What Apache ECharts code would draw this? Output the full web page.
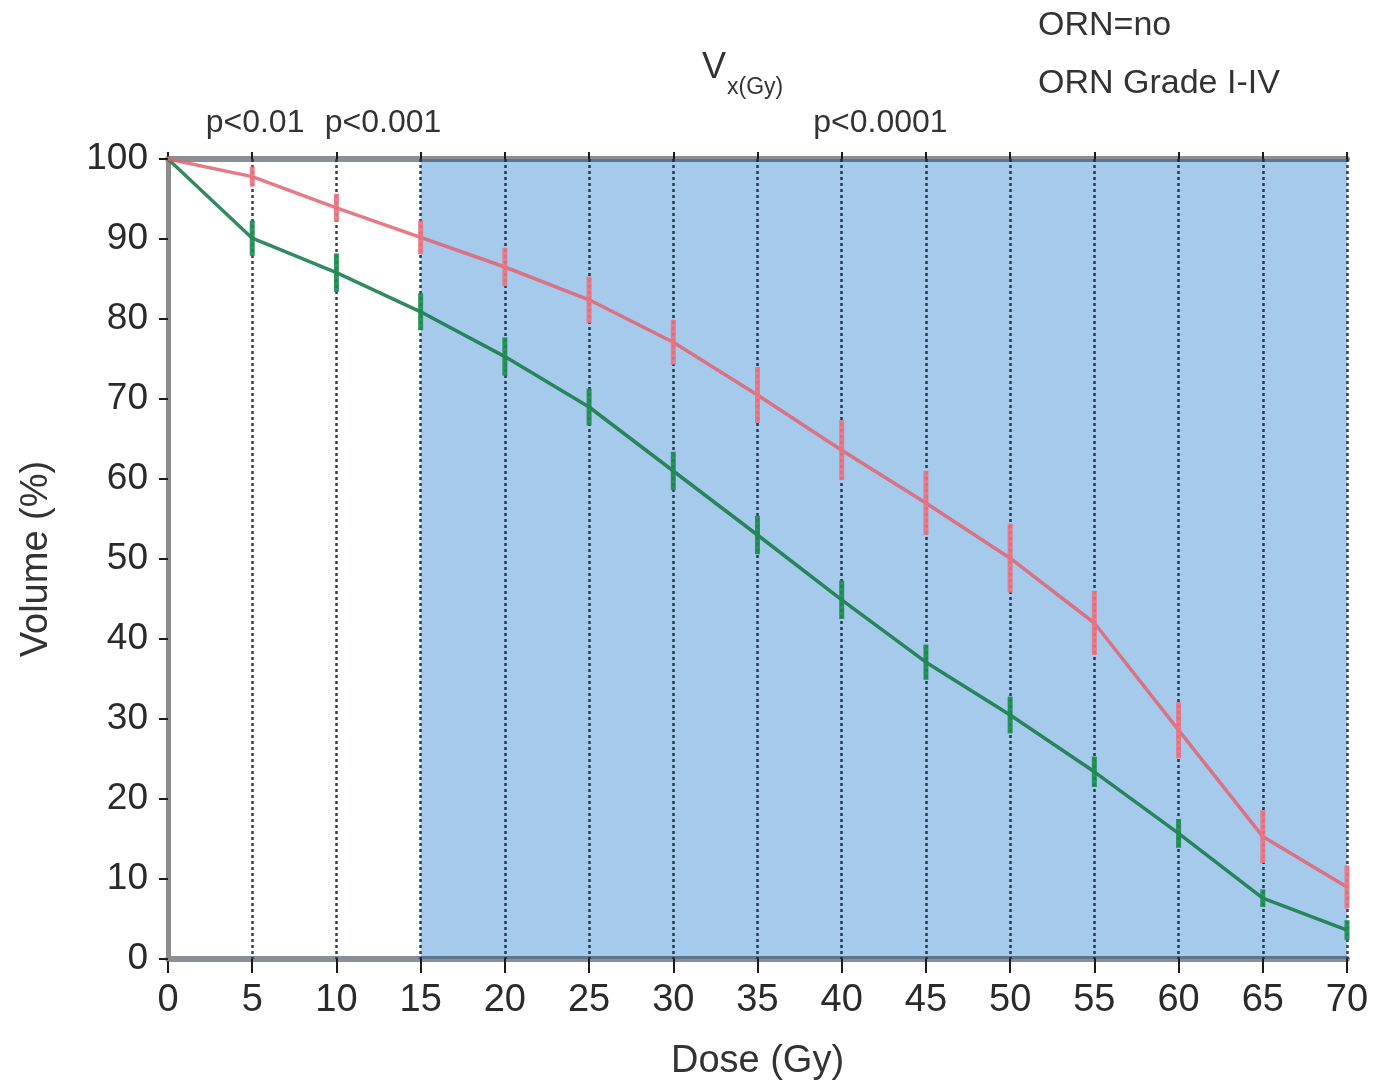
<!DOCTYPE html>
<html>
<head>
<meta charset="utf-8">
<title>Volume vs Dose</title>
<script src="https://cdn.jsdelivr.net/npm/echarts@6/dist/echarts.min.js"></script>
<style>
  html, body { margin: 0; padding: 0; background: #ffffff; }
  #chart { width: 1375px; height: 1085px; }
</style>
</head>
<body>
<div id="chart"></div>
<script>
// Dose levels (Gy)
const doses = [0, 5, 10, 15, 20, 25, 30, 35, 40, 45, 50, 55, 60, 65, 70];

// Mean volume (%) receiving at least each dose, with error half-widths
const ornNo       = [100, 90.1, 85.8, 80.9, 75.3, 69.0, 61.0, 53.0, 44.9, 37.1, 30.5, 23.4, 15.7, 7.6, 3.6];
const ornNoErr    = [0, 2.2, 2.4, 2.3, 2.4, 2.3, 2.4, 2.4, 2.4, 2.2, 2.3, 1.9, 1.8, 1.1, 1.25];
const ornGrade    = [100, 97.8, 93.9, 90.2, 86.5, 82.4, 77.1, 70.5, 63.6, 57.0, 50.1, 42.0, 28.6, 15.3, 9.0];
const ornGradeErr = [0, 1.25, 1.75, 2.1, 2.4, 2.9, 2.8, 3.5, 3.75, 4.0, 4.3, 4.0, 3.5, 3.3, 2.7];

// Dose range where the difference is highly significant
const shadedRange = [15, 70];

// Significance notes above the plot
const noteDose = [5.17, 12.77, 42.3];
const noteText = ['p<0.01', 'p<0.001', 'p<0.0001'];

// Axis ticks
const xTicks = { min: 0, max: 70, interval: 5 };
const yTicks = { min: 0, max: 100, interval: 10 };

const FONT = "'Liberation Sans', Arial, Helvetica, sans-serif";
const RED = 'rgba(226, 100, 114, 0.85)';
const RED_ERR = 'rgba(236, 116, 130, 0.92)';
const GREEN = 'rgba(22, 122, 72, 0.88)';
const GREEN_ERR = 'rgba(30, 140, 80, 0.92)';
const AXIS_LINE = 'rgba(22, 32, 46, 0.5)';

function pairs(xs, ys) { return xs.map((x, i) => [x, ys[i]]); }
function triples(xs, ys, es) { return xs.map((x, i) => [x, ys[i], es[i]]); }

function errorBarSeries(name, rows, color) {
  return {
    name: name,
    type: 'custom',
    z: 12,
    silent: true,
    data: rows,
    encode: { x: 0, y: 1 },
    renderItem: function (params, api) {
      const x = api.value(0), v = api.value(1), e = api.value(2);
      if (!e) return null;
      const hi = api.coord([x, v + e]);
      const lo = api.coord([x, v - e]);
      return {
        type: 'line',
        shape: { x1: hi[0], y1: hi[1], x2: lo[0], y2: lo[1] },
        style: { stroke: color, lineWidth: 5 }
      };
    }
  };
}

const chart = echarts.init(document.getElementById('chart'));

chart.setOption({
  animation: false,
  backgroundColor: '#ffffff',
  textStyle: { fontFamily: FONT },
  grid: { left: 168, right: 28, top: 159, bottom: 126, outerBoundsMode: 'none', containLabel: false },
  legend: {
    orient: 'vertical',
    left: 1027,
    top: 4,
    itemWidth: 0,
    itemHeight: 0,
    itemGap: 24,
    selectedMode: false,
    data: ['ORN=no', 'ORN Grade I-IV'],
    textStyle: { fontFamily: FONT, fontSize: 34, color: '#333333' }
  },
  graphic: [
    { type: 'text', left: 702, top: 50, z: 20,
      style: { text: 'V', font: '36px ' + FONT, fill: '#333333' } },
    { type: 'text', left: 727, top: 76, z: 20,
      style: { text: 'x(Gy)', font: '23px ' + FONT, fill: '#333333' } }
  ],
  xAxis: [
    {
      type: 'value',
      position: 'bottom',
      min: xTicks.min, max: xTicks.max, interval: xTicks.interval,
      z: 5,
      name: 'Dose (Gy)',
      nameLocation: 'middle',
      nameGap: 84,
      nameTextStyle: { fontFamily: FONT, fontSize: 38, color: '#333333' },
      axisLine: { show: true, onZero: false, lineStyle: { color: AXIS_LINE, width: 6 } },
      axisTick: { show: true, length: 14, lineStyle: { color: '#1a1a1a', width: 2 } },
      axisLabel: { margin: 23, fontFamily: FONT, fontSize: 38, color: '#2a2a2a' },
      splitLine: { show: true, lineStyle: { color: 'rgba(18, 30, 52, 0.85)', width: 2.5, type: [3, 3] } }
    },
    {
      type: 'value',
      position: 'top',
      min: xTicks.min, max: xTicks.max, interval: xTicks.interval,
      z: 5,
      axisLine: { show: true, onZero: false, lineStyle: { color: AXIS_LINE, width: 6 } },
      axisTick: { show: true, length: 7, lineStyle: { color: '#1a1a1a', width: 2 } },
      axisLabel: { show: false },
      splitLine: { show: false }
    }
  ],
  yAxis: {
    type: 'value',
    min: yTicks.min, max: yTicks.max, interval: yTicks.interval,
    z: 7,
    name: 'Volume (%)',
    nameLocation: 'middle',
    nameGap: 112,
    nameTextStyle: { fontFamily: FONT, fontSize: 38, color: '#333333' },
    axisLine: { show: true, onZero: false, lineStyle: { color: '#8c8c8c', width: 5 } },
    axisTick: { show: true, length: 9, lineStyle: { color: '#1a1a1a', width: 2 } },
    axisLabel: { margin: 20, fontFamily: FONT, fontSize: 37, color: '#2a2a2a' },
    splitLine: { show: false }
  },
  series: [
    {
      name: 'shade',
      type: 'line',
      z: 1,
      data: [],
      silent: true,
      markArea: {
        silent: true,
        itemStyle: { color: '#a6caec' },
        data: [[{ xAxis: shadedRange[0], yAxis: yTicks.min }, { xAxis: shadedRange[1], yAxis: yTicks.max }]]
      }
    },
    {
      name: 'notes',
      type: 'custom',
      z: 15,
      silent: true,
      data: noteDose.map((d, i) => [d, yTicks.max, i]),
      renderItem: function (params, api) {
        const p = api.coord([api.value(0), api.value(1)]);
        return {
          type: 'text',
          x: p[0], y: p[1] - 36,
          style: {
            text: noteText[api.value(2)],
            font: '32px ' + FONT,
            fill: '#333333',
            align: 'center',
            verticalAlign: 'middle'
          }
        };
      }
    },
    {
      name: 'ORN=no',
      type: 'line',
      z: 10,
      data: pairs(doses, ornNo),
      showSymbol: false,
      symbol: 'none',
      itemStyle: { color: GREEN },
      lineStyle: { color: GREEN, width: 3.5 }
    },
    {
      name: 'ORN Grade I-IV',
      type: 'line',
      z: 10,
      data: pairs(doses, ornGrade),
      showSymbol: false,
      symbol: 'none',
      itemStyle: { color: RED },
      lineStyle: { color: RED, width: 3.5 }
    },
    errorBarSeries('ORN=no err', triples(doses, ornNo, ornNoErr), GREEN_ERR),
    errorBarSeries('ORN Grade I-IV err', triples(doses, ornGrade, ornGradeErr), RED_ERR)
  ]
});
</script>
</body>
</html>
